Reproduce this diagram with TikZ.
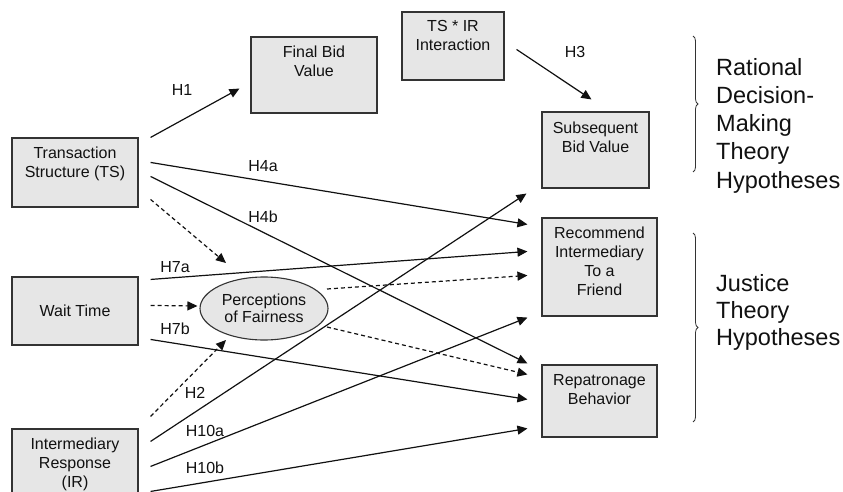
\documentclass[tikz,border=0pt]{standalone}
\usepackage{fontspec}
\setmainfont{Liberation Sans}
\usetikzlibrary{arrows.meta,decorations.pathreplacing,shapes.geometric}
\definecolor{boxfill}{HTML}{E6E6E6}
\definecolor{boxline}{HTML}{333333}
\definecolor{ink}{HTML}{111111}

\begin{document}
\begin{tikzpicture}[x=1pt,y=-1pt,
  box/.style={draw=boxline, fill=boxfill, line width=1.1pt, rectangle, inner sep=0pt},
  boxtext/.style={font=\fontsize{16}{19}\selectfont, align=center, inner sep=2pt, text=ink},
  link/.style={draw=ink, line width=1.2pt, -{Triangle[length=10pt,width=9pt]}},
  dlink/.style={link, dash pattern=on 4pt off 3pt},
  hlab/.style={font=\fontsize{16}{19}\selectfont, text=ink, inner sep=0pt},
  side/.style={align=left, anchor=north west, inner sep=0pt, text=ink},
  grp/.style={draw=boxline, decorate, decoration={brace, amplitude=5pt}, line width=0.8pt}
]
\useasboundingbox (0,0) rectangle (843,492);
\fill[white] (0,0) rectangle (843,492);

% independent variables
\node[box, minimum width=126pt, minimum height=69pt] (ts) at (75,172.5) {};
\node[boxtext, anchor=north] (ts-t) at ([yshift=-7pt]ts.north) {Transaction\\Structure (TS)};
\node[box, minimum width=126pt, minimum height=68pt] (wt) at (75,311) {};
\node[boxtext] (wt-t) at (wt.center) {Wait Time};
\node[box, minimum width=126pt, minimum height=72pt] (ir) at (75,465) {};
\node[boxtext, anchor=north] (ir-t) at ([yshift=-7pt]ir.north) {Intermediary\\Response\\(IR)};

% upper boxes
\node[box, minimum width=126pt, minimum height=76pt] (fb) at (314,75) {};
\node[boxtext, anchor=north] (fb-t) at ([yshift=-7pt]fb.north) {Final Bid\\Value};
\node[box, minimum width=102pt, minimum height=68pt] (tsir) at (453,46) {};
\node[boxtext, anchor=north] (tsir-t) at ([yshift=-7pt]tsir.north) {TS * IR\\Interaction};

% outcomes
\node[box, minimum width=107pt, minimum height=76pt] (sb) at (595.5,150) {};
\node[boxtext, anchor=north] (sb-t) at ([yshift=-8pt]sb.north) {Subsequent\\Bid Value};
\node[box, minimum width=115pt, minimum height=98pt] (rec) at (599.5,267) {};
\node[boxtext, anchor=north] (rec-t) at ([yshift=-7pt]rec.north) {Recommend\\Intermediary\\To a\\Friend};
\node[box, minimum width=115pt, minimum height=72pt] (rep) at (599.5,401) {};
\node[boxtext, anchor=north] (rep-t) at ([yshift=-8pt]rep.north) {Repatronage\\Behavior};

% mediator
\node[draw=boxline, fill=boxfill, line width=1.1pt, ellipse, minimum width=128pt, minimum height=63pt, inner sep=0pt,
      font=\fontsize{16}{17}\selectfont, align=center, text=ink] (fair) at (264,308.5) {Perceptions\\of Fairness};

% direct paths
\draw[link] ([shift={(12,0)}]ts.north east) -- ([shift={(-11,-25)}]fb.south west);
\draw[link] ([shift={(12,25)}]ts.north east) -- ([shift={(-14,7)}]rec.north west);
\draw[link] ([shift={(12,39)}]ts.north east) -- ([shift={(-14,-1)}]rep.north west);
\draw[link] ([shift={(12,3)}]wt.north east) -- ([shift={(-14,34)}]rec.north west);
\draw[link] ([shift={(12,63)}]wt.north east) -- ([shift={(-14,35)}]rep.north west);
\draw[link] ([shift={(12,13)}]ir.north east) -- ([shift={(-15,5)}]sb.south west);
\draw[link] ([shift={(12,38)}]ir.north east) -- ([shift={(-14,1)}]rec.south west);
\draw[link] ([shift={(12,63)}]ir.north east) -- ([shift={(-14,64)}]rep.north west);
\draw[link] ([shift={(12,38)}]tsir.north east) -- ([shift={(50,-12)}]sb.north west);

% paths through fairness
\draw[dlink] ([shift={(12,62)}]ts.north east) -- ([shift={(-38,-45.5)}]fair.center);
\draw[dlink] ([shift={(12,29)}]wt.north east) -- ([shift={(-2,-2.5)}]fair.west);
\draw[dlink] ([shift={(12,-12)}]ir.north east) -- ([shift={(-38,31.5)}]fair.center);
\draw[dlink] ([shift={(63,-19.5)}]fair.center) -- ([shift={(-14,58)}]rec.north west);
\draw[dlink] ([shift={(63,18.5)}]fair.center) -- ([shift={(-14,10)}]rep.north west);

% hypothesis labels
\node[hlab] (l-h1) at (182,90) {H1};
\node[hlab] (l-h3) at (575,52) {H3};
\node[hlab] (l-h4a) at (263,166) {H4a};
\node[hlab] (l-h4b) at (263,217) {H4b};
\node[hlab] (l-h7a) at (175,267) {H7a};
\node[hlab] (l-h7b) at (175,329) {H7b};
\node[hlab] (l-h2) at (195,393) {H2};
\node[hlab] (l-h10a) at (205,431) {H10a};
\node[hlab] (l-h10b) at (205,468) {H10b};

% theory groupings
\draw[grp] (693,36) -- (693,172);
\node[side, font=\fontsize{23.5}{28.2}\selectfont] (rat) at (716,58) {Rational\\Decision-\\Making\\Theory\\Hypotheses};
\draw[grp] (693,233) -- (693,422);
\node[side, font=\fontsize{23.5}{27}\selectfont] (jus) at (716,274) {Justice\\Theory\\Hypotheses};
\end{tikzpicture}
\end{document}
